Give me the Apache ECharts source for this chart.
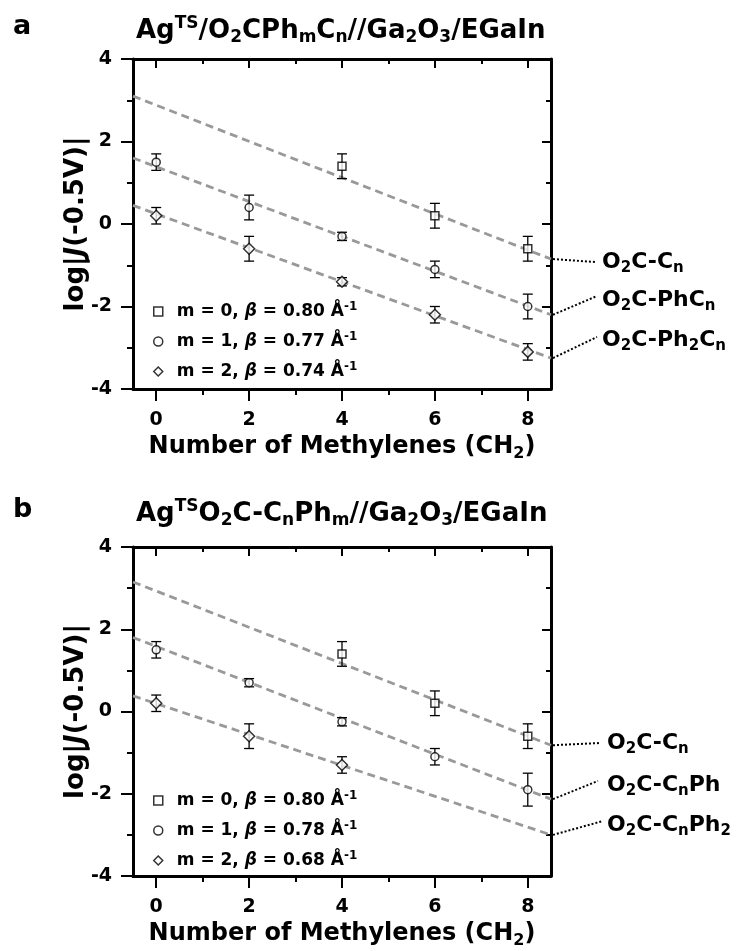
<!DOCTYPE html>
<html>
<head>
<meta charset="utf-8">
<script src="https://cdn.jsdelivr.net/npm/echarts@6/dist/echarts.min.js"></script>
<style>
html, body { margin: 0; padding: 0; background: #fff; }
#chart { width: 749px; height: 951px; }
</style>
</head>
<body>
<div id="chart"></div>
<script>
// number of CH2 units
const methylenes = [0, 2, 4, 6, 8];
const xMajorTicks = [0, 2, 4, 6, 8];
const xMinorTicks = [1, 3, 5, 7];
const fitX = [-0.5, 8.5];

// panel a : AgTS/O2CPhmCn
const aM0 = [null, null, 1.4, 0.2, -0.6];
const aM0Err = [null, null, 0.3, 0.3, 0.3];
const aM1 = [1.5, 0.4, -0.3, -1.1, -2.0];
const aM1Err = [0.2, 0.3, 0.1, 0.2, 0.3];
const aM2 = [0.2, -0.6, -1.4, -2.2, -3.1];
const aM2Err = [0.2, 0.3, 0.1, 0.2, 0.2];
const aFit0 = [3.1, -0.85];
const aFit1 = [1.6, -2.2];
const aFit2 = [0.45, -3.25];
const aBeta = ['0.80', '0.77', '0.74'];

// panel b : AgTSO2C-CnPhm
const bM0 = [null, null, 1.4, 0.2, -0.6];
const bM0Err = [null, null, 0.3, 0.3, 0.3];
const bM1 = [1.5, 0.7, -0.25, -1.1, -1.9];
const bM1Err = [0.2, 0.1, 0.1, 0.2, 0.4];
const bM2 = [0.2, -0.6, -1.3, null, null];
const bM2Err = [0.2, 0.3, 0.2, null, null];
const bFit0 = [3.15, -0.82];
const bFit1 = [1.8, -2.13];
const bFit2 = [0.38, -3.0];
const bBeta = ['0.80', '0.78', '0.68'];

const FF = '"DejaVu Sans", "Liberation Sans", sans-serif';

// rich styles: t plain, i italic, s subscript, u superscript
function rich(size, sub) {
    const base = {fontFamily: FF, fontWeight: 'bold', color: '#000'};
    const pad = Math.round(size * 0.55);
    return {
        t: Object.assign({}, base, {fontSize: size, lineHeight: size + 8}),
        i: Object.assign({}, base, {fontSize: size, lineHeight: size + 8, fontStyle: 'italic'}),
        s: Object.assign({}, base, {fontSize: sub, lineHeight: sub, padding: [pad, 0, 0, 0]}),
        u: Object.assign({}, base, {fontSize: sub, lineHeight: sub, padding: [0, 0, pad, 0]})
    };
}

function pts(vals) {
    const out = [];
    methylenes.forEach((x, i) => { if (vals[i] != null) out.push([x, vals[i]]); });
    return out;
}
function errPts(vals, errs) {
    const out = [];
    methylenes.forEach((x, i) => { if (vals[i] != null) out.push([x, vals[i], errs[i]]); });
    return out;
}

function errRender(params, api) {
    const x = api.value(0), y = api.value(1), e = api.value(2);
    const hi = api.coord([x, y + e]);
    const lo = api.coord([x, y - e]);
    const w = 5;
    const st = {stroke: '#000', lineWidth: 1.3};
    return {
        type: 'group',
        children: [
            {type: 'line', shape: {x1: hi[0], y1: hi[1], x2: lo[0], y2: lo[1]}, style: st},
            {type: 'line', shape: {x1: hi[0] - w, y1: hi[1], x2: hi[0] + w, y2: hi[1]}, style: st},
            {type: 'line', shape: {x1: lo[0] - w, y1: lo[1], x2: lo[0] + w, y2: lo[1]}, style: st}
        ]
    };
}

const tickLabel = {fontFamily: FF, fontWeight: 'bold', fontSize: 19, color: '#000'};
const blackLine = {color: '#000', width: 3};
const tickLine = {color: '#000', width: 2};

function xAxes(g) {
    const base = {gridIndex: g, type: 'value', min: -0.5, max: 8.5, splitLine: {show: false}};
    return [
        Object.assign({}, base, {
            position: 'bottom',
            axisLine: {onZero: false, lineStyle: blackLine},
            axisTick: {customValues: xMajorTicks, length: 12, lineStyle: tickLine},
            axisLabel: Object.assign({customValues: xMajorTicks, margin: 22}, tickLabel),
            name: 'Number of Methylenes (CH{s|2})',
            nameLocation: 'middle',
            nameGap: 42,
            nameMoveOverlap: false,
            nameTextStyle: {fontFamily: FF, fontWeight: 'bold', fontSize: 24, color: '#000', lineHeight: 32, rich: rich(24, 16)}
        }),
        Object.assign({}, base, {
            position: 'bottom',
            axisLine: {show: false, onZero: false},
            axisTick: {customValues: xMinorTicks, length: 6, lineStyle: tickLine},
            axisLabel: {show: false}
        }),
        Object.assign({}, base, {
            position: 'top',
            axisLine: {onZero: false, lineStyle: blackLine},
            axisTick: {customValues: xMajorTicks, inside: true, length: 9, lineStyle: tickLine},
            axisLabel: {show: false}
        }),
        Object.assign({}, base, {
            position: 'top',
            axisLine: {show: false, onZero: false},
            axisTick: {customValues: xMinorTicks, inside: true, length: 5, lineStyle: tickLine},
            axisLabel: {show: false}
        })
    ];
}

function yAxes(g) {
    const base = {gridIndex: g, type: 'value', min: -4, max: 4, interval: 2, splitLine: {show: false}};
    return [
        Object.assign({}, base, {
            position: 'left',
            axisLine: {onZero: false, lineStyle: blackLine},
            axisTick: {length: 12, lineStyle: tickLine},
            minorTick: {show: true, splitNumber: 2, length: 6, lineStyle: tickLine},
            axisLabel: Object.assign({margin: 21}, tickLabel),
            name: 'log|{i|J}(-0.5V)|',
            nameLocation: 'middle',
            nameGap: 40,
            nameMoveOverlap: false,
            nameTextStyle: {fontFamily: FF, fontWeight: 'bold', fontSize: 26, color: '#000', rich: rich(26, 17)}
        }),
        Object.assign({}, base, {
            position: 'right',
            axisLine: {onZero: false, lineStyle: blackLine},
            axisTick: {inside: true, length: 9, lineStyle: tickLine},
            minorTick: {show: true, splitNumber: 2, length: 5, lineStyle: tickLine},
            axisLabel: {show: false}
        })
    ];
}

const symbols = ['rect', 'circle', 'diamond'];
const symbolSizes = [8, 8, 11];
const markerStyle = {color: '#fff', borderColor: '#000', borderWidth: 1.5};

function panelSeries(p, xi, yi, vals, errs, fits) {
    const out = [];
    fits.forEach(f => {
        out.push({
            type: 'line', xAxisIndex: xi, yAxisIndex: yi, z: 1,
            data: fitX.map((x, j) => [x, f[j]]),
            symbol: 'none', silent: true,
            lineStyle: {color: '#999', width: 2.8, type: [8, 5]}
        });
    });
    vals.forEach((v, k) => {
        out.push({
            type: 'custom', xAxisIndex: xi, yAxisIndex: yi, z: 2,
            renderItem: errRender,
            encode: {x: 0, y: 1},
            data: errPts(v, errs[k])
        });
        out.push({
            type: 'scatter', name: p + k, xAxisIndex: xi, yAxisIndex: yi, z: 3,
            symbol: symbols[k], symbolSize: symbolSizes[k],
            itemStyle: markerStyle,
            data: pts(v)
        });
    });
    return out;
}

function legendFor(p, top, betas) {
    return {
        orient: 'vertical', left: 148, top: top,
        itemWidth: 9, itemHeight: 9, itemGap: 5,
        data: [0, 1, 2].map(k => ({name: p + k, icon: symbols[k], itemStyle: markerStyle})),
        formatter: name => {
            const k = +name.slice(1);
            return 'm = ' + k + ', {i|β} = ' + betas[k] + ' Å{u|-1}';
        },
        textStyle: {fontFamily: FF, fontWeight: 'bold', fontSize: 17, color: '#000', lineHeight: 24,
            padding: [0, 0, 0, 9], rich: rich(17, 12)}
    };
}

const titleStyle = {fontFamily: FF, fontWeight: 'bold', fontSize: 26, color: '#000', lineHeight: 34, rich: rich(26, 17)};
const panelLetter = {fontFamily: FF, fontWeight: 'bold', fontSize: 27, color: '#000'};

const chart = echarts.init(document.getElementById('chart'));
chart.setOption({
    animation: false,
    backgroundColor: '#fff',
    title: [
        {text: 'a', left: 8, top: 8, textStyle: panelLetter},
        {text: 'Ag{u|TS}/O{s|2}CPh{s|m}C{s|n}//Ga{s|2}O{s|3}/EGaIn', left: 131, top: 9, textStyle: titleStyle},
        {text: 'b', left: 8, top: 491, textStyle: panelLetter},
        {text: 'Ag{u|TS}O{s|2}C-C{s|n}Ph{s|m}//Ga{s|2}O{s|3}/EGaIn', left: 131, top: 492, textStyle: titleStyle}
    ],
    grid: [
        {left: 133, top: 59, width: 418, height: 330},
        {left: 133, top: 547, width: 418, height: 330}
    ],
    xAxis: xAxes(0).concat(xAxes(1)),
    yAxis: yAxes(0).concat(yAxes(1)),
    legend: [legendFor('a', 294, aBeta), legendFor('b', 783, bBeta)],
    series: panelSeries('a', 0, 0, [aM0, aM1, aM2], [aM0Err, aM1Err, aM2Err], [aFit0, aFit1, aFit2])
        .concat(panelSeries('b', 4, 2, [bM0, bM1, bM2], [bM0Err, bM1Err, bM2Err], [bFit0, bFit1, bFit2]))
});

// dotted leader lines from each fit end to its name on the right
const aNames = ['O{s|2}C-C{s|n}', 'O{s|2}C-PhC{s|n}', 'O{s|2}C-Ph{s|2}C{s|n}'];
const bNames = ['O{s|2}C-C{s|n}', 'O{s|2}C-C{s|n}Ph', 'O{s|2}C-C{s|n}Ph{s|2}'];
const aTargets = [[595, 262], [597, 296], [597, 337]];
const bTargets = [[600, 743], [598, 781], [603, 821]];
const aLabelX = 602, bLabelX = 607;
const aLabelY = [262, 300, 340], bLabelY = [743, 785, 825];

const graphics = [];
function leaders(fits, xi, yi, targets, names, lx, ly) {
    fits.forEach((f, k) => {
        const start = chart.convertToPixel({xAxisIndex: xi, yAxisIndex: yi}, [fitX[1], f[1]]);
        graphics.push({
            type: 'polyline', silent: true,
            shape: {points: [[start[0] + 2, start[1]], targets[k]]},
            style: {stroke: '#000', lineWidth: 2, lineDash: [2, 2], fill: null}
        });
        graphics.push({
            type: 'text', silent: true, x: lx, y: ly[k],
            style: {text: names[k], rich: rich(22, 15), font: 'bold 22px ' + FF, fill: '#000',
                verticalAlign: 'middle', align: 'left', lineHeight: 30}
        });
    });
}
leaders([aFit0, aFit1, aFit2], 0, 0, aTargets, aNames, aLabelX, aLabelY);
leaders([bFit0, bFit1, bFit2], 4, 2, bTargets, bNames, bLabelX, bLabelY);
chart.setOption({graphic: graphics});
</script>
</body>
</html>
